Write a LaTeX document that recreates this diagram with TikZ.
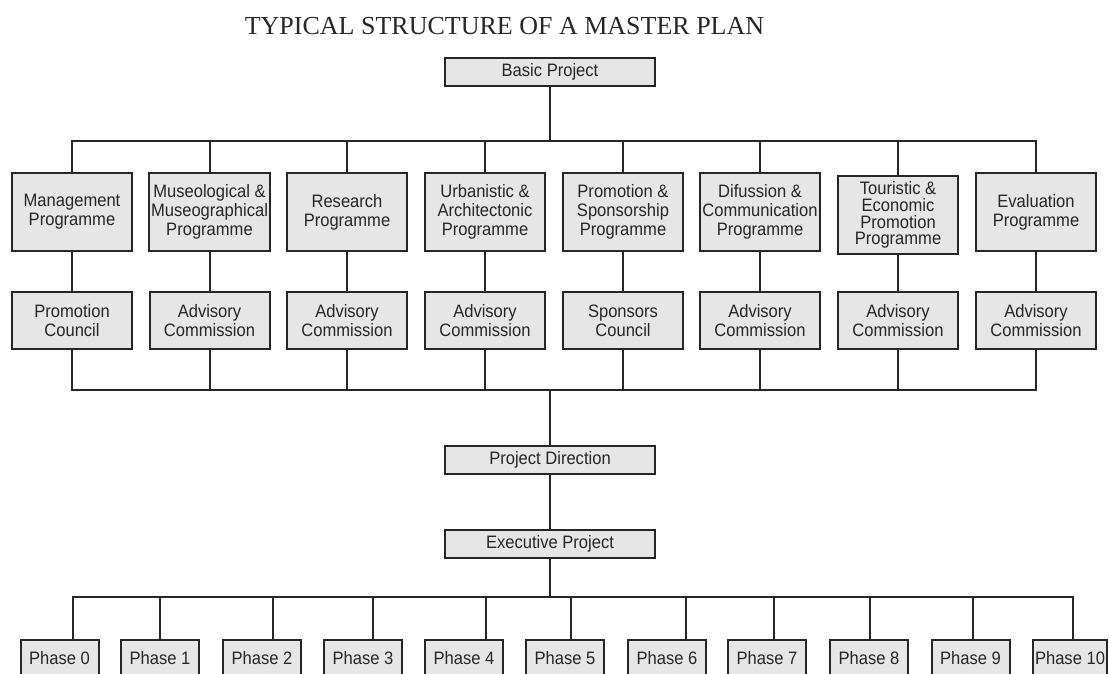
\documentclass[tikz,border=0pt]{standalone}
\usepackage{fontspec}
\setmainfont{Liberation Sans}[FakeStretch=0.92]
\newfontfamily\titlefont{Liberation Serif}
\usetikzlibrary{positioning}
\definecolor{boxgray}{HTML}{E6E6E6}
\definecolor{ink}{HTML}{262626}

\begin{document}
\begin{tikzpicture}[
  x=1pt, y=-1pt,
  font=\fontsize{18}{18.7}\selectfont,
  box/.style={draw=ink,line width=2pt,fill=boxgray,text=ink,align=center,
              inner xsep=2pt,inner ysep=2pt},
  prog/.style={box,minimum width=120pt,minimum height=78pt},
  coun/.style={box,minimum width=120pt,minimum height=57pt},
  main/.style={box,minimum width=210pt,minimum height=28pt},
  phase/.style={box,minimum width=78pt,minimum height=36pt,anchor=north},
  link/.style={draw=ink,line width=2pt}
]
\useasboundingbox (0,0) rectangle (1109,673);
\clip (0,0) rectangle (1109,673);

\node[font=\titlefont\fontsize{26}{28}\selectfont,text=ink] (title) at (504.5,26.5) {TYPICAL STRUCTURE OF A MASTER PLAN};
\node[main] (basic) at (550,72) {Basic Project};

% programmes
\node[prog] (mgmt) at (72,212) {Management\\Programme};
\node[prog] (museo) at (209.5,212) {Museological \&\\Museographical\\Programme};
\node[prog] (res) at (347,212) {Research\\Programme};
\node[prog] (urb) at (485,212) {Urbanistic \&\\Architectonic\\Programme};
\node[prog] (promo) at (623,212) {Promotion \&\\Sponsorship\\Programme};
\node[prog] (dif) at (760,212) {Difussion \&\\Communication\\Programme};
\node[prog,font=\fontsize{18}{16.7}\selectfont] (tour) at (898,215) {Touristic \&\\Economic\\Promotion\\Programme};
\node[prog] (eval) at (1036,212) {Evaluation\\Programme};

% councils and commissions
\node[coun] (pcoun) at (72,320.5) {Promotion\\Council};
\node[coun] (adva) at (209.5,320.5) {Advisory\\Commission};
\node[coun] (advb) at (347,320.5) {Advisory\\Commission};
\node[coun] (advc) at (485,320.5) {Advisory\\Commission};
\node[coun] (scoun) at (623,320.5) {Sponsors\\Council};
\node[coun] (advd) at (760,320.5) {Advisory\\Commission};
\node[coun] (adve) at (898,320.5) {Advisory\\Commission};
\node[coun] (advf) at (1036,320.5) {Advisory\\Commission};

\node[main] (pdir) at (550,460) {Project Direction};
\node[main] (exec) at (550,544) {Executive Project};

% phases
\node[phase] (ph0) at (59.5,639) {Phase 0};
\node[phase] (ph1) at (160,639) {Phase 1};
\node[phase] (ph2) at (262,639) {Phase 2};
\node[phase] (ph3) at (363,639) {Phase 3};
\node[phase] (ph4) at (464,639) {Phase 4};
\node[phase] (ph5) at (565,639) {Phase 5};
\node[phase] (ph6) at (667,639) {Phase 6};
\node[phase] (ph7) at (767,639) {Phase 7};
\node[phase] (ph8) at (869,639) {Phase 8};
\node[phase] (ph9) at (970.5,639) {Phase 9};
\node[phase,minimum width=74pt] (ph10) at (1070,639) {Phase 10};

\coordinate (topbus) at (0,141);
\coordinate (midbus) at (0,390);
\coordinate (phbus) at (0,597);

% upper tree
\draw[link] (basic) -- (basic |- topbus);
\draw[link] (mgmt) -- (mgmt |- topbus) -- (eval |- topbus) -- (eval);
\draw[link] (museo |- topbus) -- (museo);
\draw[link] (res |- topbus) -- (res);
\draw[link] (urb |- topbus) -- (urb);
\draw[link] (promo |- topbus) -- (promo);
\draw[link] (dif |- topbus) -- (dif);
\draw[link] (tour |- topbus) -- (tour);

\draw[link] (mgmt) -- (pcoun);
\draw[link] (museo) -- (adva);
\draw[link] (res) -- (advb);
\draw[link] (urb) -- (advc);
\draw[link] (promo) -- (scoun);
\draw[link] (dif) -- (advd);
\draw[link] (tour) -- (adve);
\draw[link] (eval) -- (advf);

\draw[link] (pcoun) -- (pcoun |- midbus) -- (advf |- midbus) -- (advf);
\draw[link] (adva) -- (adva |- midbus);
\draw[link] (advb) -- (advb |- midbus);
\draw[link] (advc) -- (advc |- midbus);
\draw[link] (scoun) -- (scoun |- midbus);
\draw[link] (advd) -- (advd |- midbus);
\draw[link] (adve) -- (adve |- midbus);

% direction line
\draw[link] (pdir |- midbus) -- (pdir);
\draw[link] (pdir) -- (exec);
\draw[link] (exec) -- (exec |- phbus);

% phase tree
\draw[link] ([xshift=13pt]ph0.north) -- ([xshift=13pt]ph0.north |- phbus) -- ([xshift=3pt]ph10.north |- phbus) -- ([xshift=3pt]ph10.north);
\draw[link] (ph1.north |- phbus) -- (ph1.north);
\draw[link] ([xshift=10.5pt]ph2.north |- phbus) -- ([xshift=10.5pt]ph2.north);
\draw[link] ([xshift=9.5pt]ph3.north |- phbus) -- ([xshift=9.5pt]ph3.north);
\draw[link] ([xshift=22pt]ph4.north |- phbus) -- ([xshift=22pt]ph4.north);
\draw[link] ([xshift=6pt]ph5.north |- phbus) -- ([xshift=6pt]ph5.north);
\draw[link] ([xshift=19pt]ph6.north |- phbus) -- ([xshift=19pt]ph6.north);
\draw[link] ([xshift=7pt]ph7.north |- phbus) -- ([xshift=7pt]ph7.north);
\draw[link] ([xshift=1pt]ph8.north |- phbus) -- ([xshift=1pt]ph8.north);
\draw[link] ([xshift=2pt]ph9.north |- phbus) -- ([xshift=2pt]ph9.north);
\end{tikzpicture}
\end{document}
